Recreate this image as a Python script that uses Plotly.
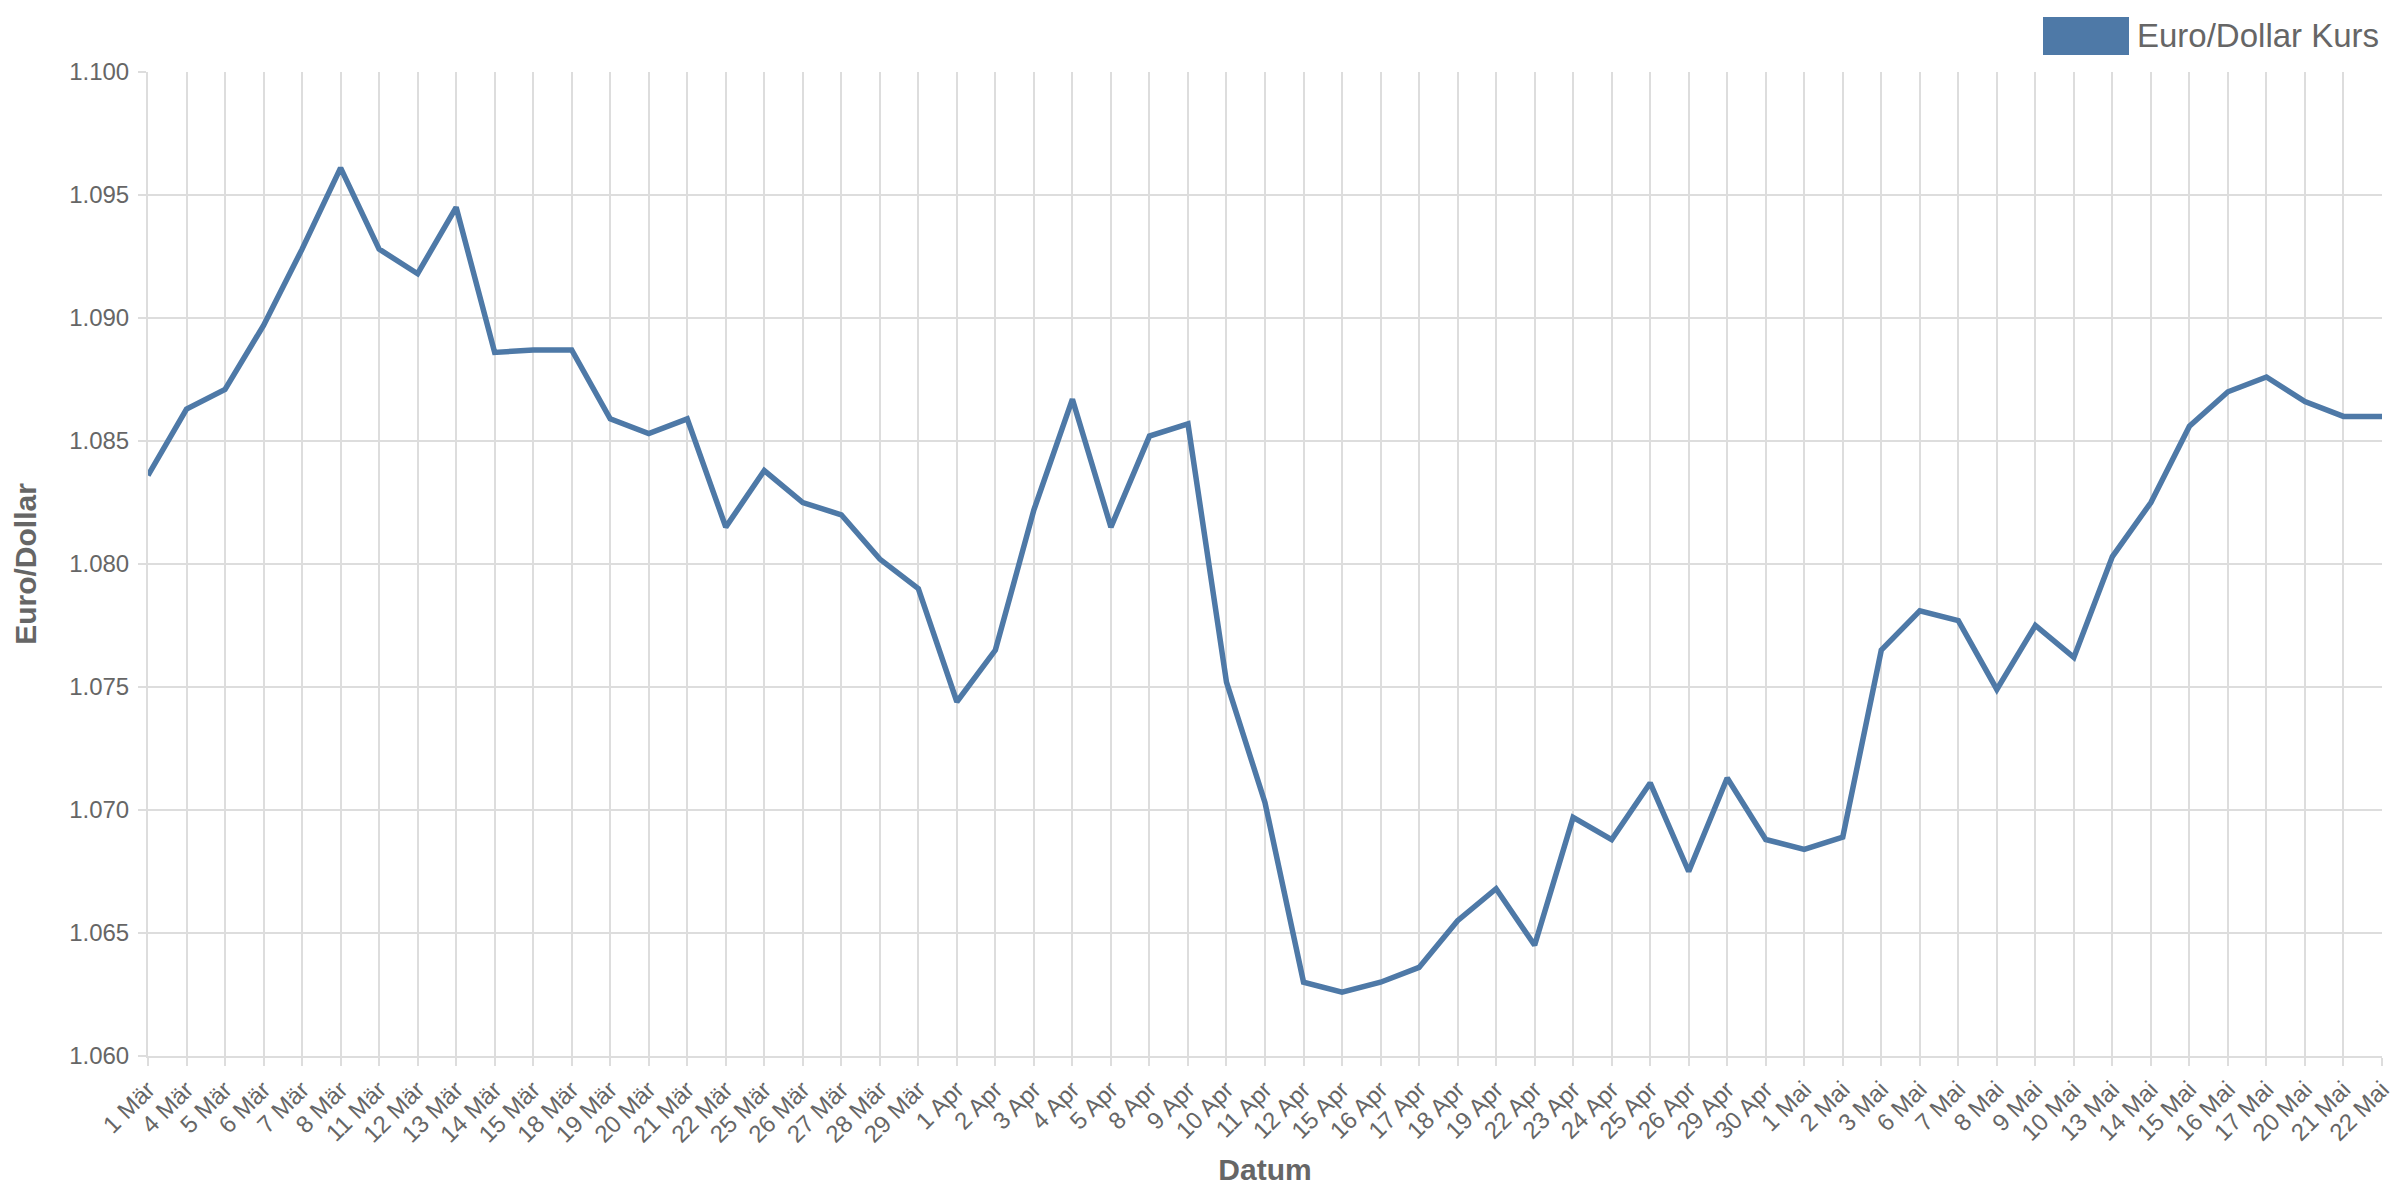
import plotly.graph_objects as go

dates = [
    "1 Mär", "4 Mär", "5 Mär", "6 Mär", "7 Mär", "8 Mär", "11 Mär", "12 Mär", "13 Mär", "14 Mär",
    "15 Mär", "18 Mär", "19 Mär", "20 Mär", "21 Mär", "22 Mär", "25 Mär", "26 Mär", "27 Mär", "28 Mär",
    "29 Mär", "1 Apr", "2 Apr", "3 Apr", "4 Apr", "5 Apr", "8 Apr", "9 Apr", "10 Apr", "11 Apr",
    "12 Apr", "15 Apr", "16 Apr", "17 Apr", "18 Apr", "19 Apr", "22 Apr", "23 Apr", "24 Apr", "25 Apr",
    "26 Apr", "29 Apr", "30 Apr", "1 Mai", "2 Mai", "3 Mai", "6 Mai", "7 Mai", "8 Mai", "9 Mai",
    "10 Mai", "13 Mai", "14 Mai", "15 Mai", "16 Mai", "17 Mai", "20 Mai", "21 Mai", "22 Mai",
]
kurs = [
    1.0836, 1.0863, 1.0871, 1.0897, 1.0928, 1.0961, 1.0928, 1.0918, 1.0945, 1.0886,
    1.0887, 1.0887, 1.0859, 1.0853, 1.0859, 1.0815, 1.0838, 1.0825, 1.0820, 1.0802,
    1.0790, 1.0744, 1.0765, 1.0822, 1.0867, 1.0815, 1.0852, 1.0857, 1.0752, 1.0703,
    1.0630, 1.0626, 1.0630, 1.0636, 1.0655, 1.0668, 1.0645, 1.0697, 1.0688, 1.0711,
    1.0675, 1.0713, 1.0688, 1.0684, 1.0689, 1.0765, 1.0781, 1.0777, 1.0749, 1.0775,
    1.0762, 1.0803, 1.0825, 1.0856, 1.0870, 1.0876, 1.0866, 1.0860, 1.0860,
]
series_name = "Euro/Dollar Kurs"

blue = "#4e79a7"
grey = "#666666"
grid = "#dddddd"
font_family = "Liberation Sans, Arial, sans-serif"

# the page adds an 8px body margin, so the figure is a bit smaller than the window
W, H = 2392, 1184
L, R, T, B = 140, 18, 64, 136
pw, ph = W - L - R, H - T - B

fig = go.Figure()
fig.add_trace(go.Scatter(x=dates, y=kurs, mode="lines", name=series_name,
                         line=dict(color=blue, width=5.5), showlegend=False))

fig.update_layout(
    width=W, height=H,
    margin=dict(l=L, r=R, t=T, b=B),
    paper_bgcolor="white", plot_bgcolor="white",
    font=dict(family=font_family, size=24, color=grey),
    xaxis=dict(
        type="category", range=[0, len(dates) - 1], automargin=False,
        showgrid=True, gridcolor=grid, gridwidth=2,
        ticks="outside", ticklen=8, tickcolor=grid, tickwidth=2,
        tickangle=-45, showline=True, linecolor=grid, linewidth=2,
        title=dict(text="Datum", font=dict(size=30, weight=600, color=grey), standoff=12),
    ),
    yaxis=dict(
        range=[1.06, 1.10], dtick=0.005, tickformat=".3f", automargin=False,
        showgrid=True, gridcolor=grid, gridwidth=2, zeroline=False,
        ticks="outside", ticklen=8, tickcolor=grid, tickwidth=2,
        ticklabelstandoff=4,
        showline=True, linecolor=grid, linewidth=2,
        title=dict(text="Euro/Dollar", font=dict(size=30, weight=600, color=grey), standoff=24),
    ),
)

# legend drawn like the original: filled box + label
fig.add_shape(type="rect", xref="paper", yref="paper",
              x0=(2035 - L) / pw, x1=(2121 - L) / pw,
              y0=1 + (T - 47) / ph, y1=1 + (T - 9) / ph,
              fillcolor=blue, line=dict(width=0))
fig.add_annotation(text=series_name, xref="paper", yref="paper",
                   x=1 + (2373 - L - pw) / pw, y=1 + (T - 28) / ph,
                   xanchor="right", yanchor="middle",
                   showarrow=False, font=dict(size=33, color=grey))

fig.write_html("out.html")
